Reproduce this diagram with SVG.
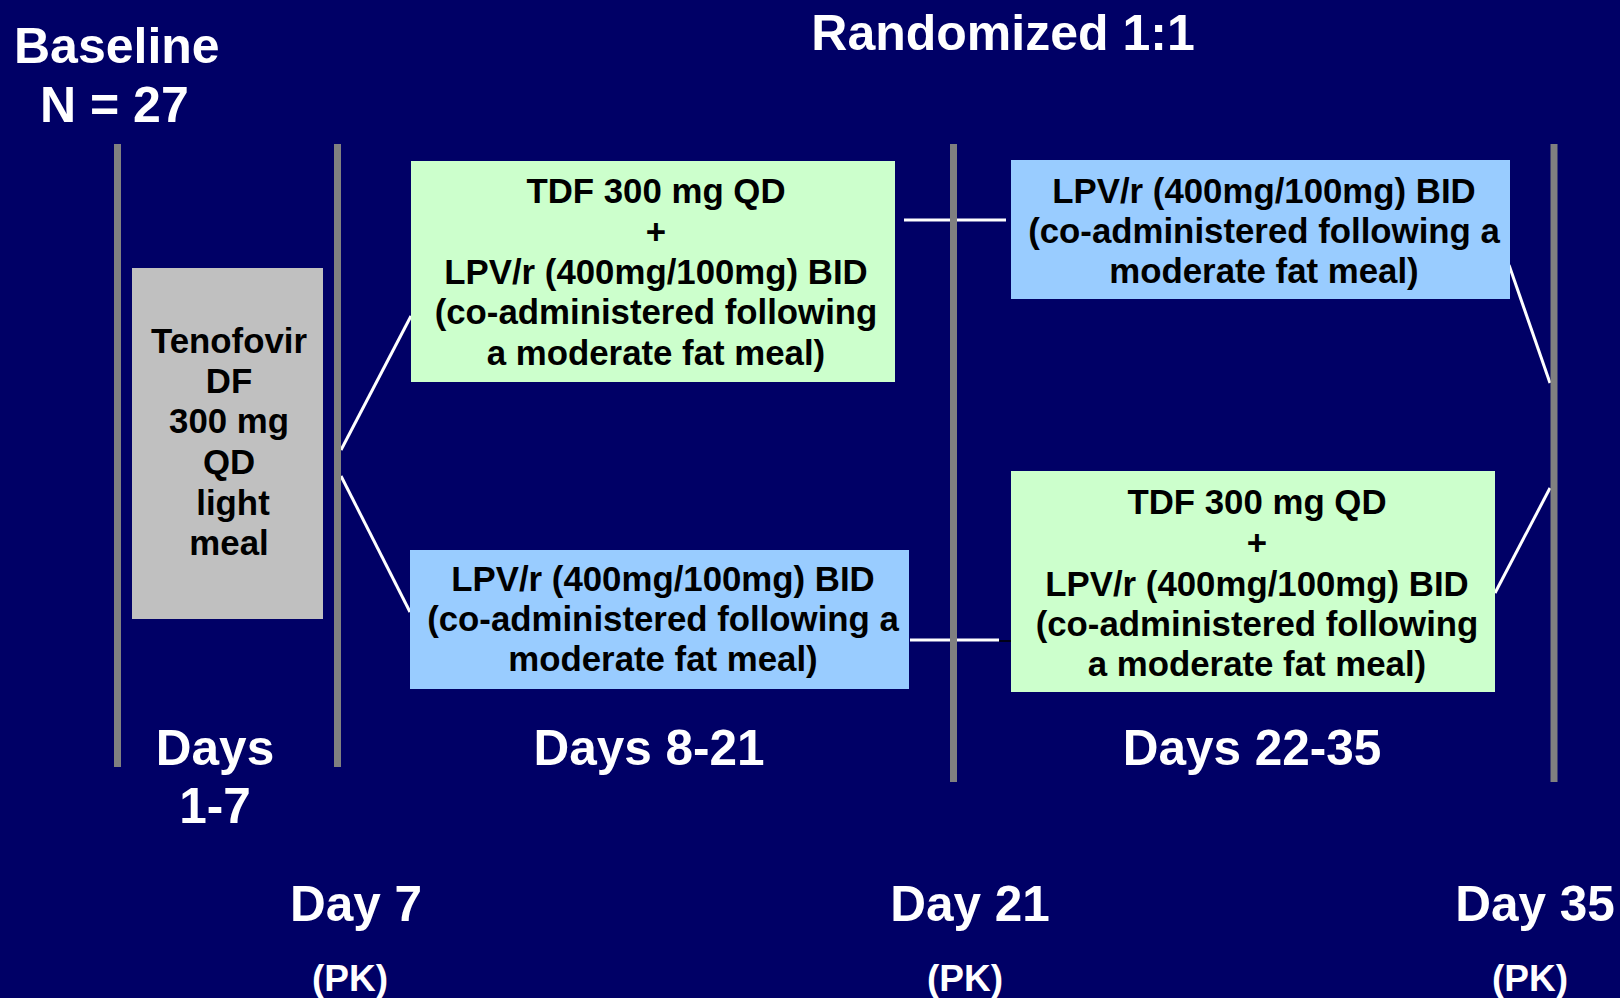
<svg xmlns="http://www.w3.org/2000/svg" width="1620" height="998" viewBox="0 0 1620 998">
<style>
.t{font-family:"Liberation Sans",Arial,sans-serif;font-weight:bold;}
.title{fill:#ffffff;font-size:50px;}
.day{fill:#ffffff;font-size:49.5px;text-anchor:middle;}
.pk{fill:#ffffff;font-size:37px;text-anchor:middle;}
.bx{fill:#000000;font-size:34.8px;text-anchor:middle;}
.vl{stroke:#808080;stroke-width:7;}
.cn{stroke:#ffffff;stroke-width:3;fill:none;}
</style>
<rect x="0" y="0" width="1620" height="998" fill="#000066"/>

<g id="titles" class="t">
  <text class="title" x="14" y="63">Baseline</text>
  <text class="title" x="40" y="122">N = 27</text>
  <text class="title" x="1003" y="50" text-anchor="middle">Randomized 1:1</text>
</g>

<g id="connectors">
  <line class="cn" x1="341" y1="450" x2="411" y2="316"/>
  <line class="cn" x1="341" y1="476" x2="410" y2="612"/>
  <line class="cn" x1="904" y1="220" x2="1006" y2="220"/>
  <line class="cn" x1="910" y1="640" x2="999" y2="640"/>
  <line stroke="#000000" stroke-width="1.5" x1="999" y1="641" x2="1011" y2="641"/>
  <line class="cn" x1="1509" y1="265" x2="1550" y2="383"/>
  <line class="cn" x1="1495" y1="593" x2="1550" y2="488"/>
</g>

<g id="timeline">
  <line class="vl" x1="117.5" y1="144" x2="117.5" y2="767"/>
  <line class="vl" x1="337.5" y1="144" x2="337.5" y2="767"/>
  <line class="vl" x1="953.5" y1="144" x2="953.5" y2="782"/>
  <line class="vl" x1="1554" y1="144" x2="1554" y2="782"/>
</g>

<g id="node-tenofovir" class="t">
  <rect x="132" y="268" width="191" height="351" fill="#c0c0c0"/>
  <text class="bx" x="229" y="353">Tenofovir</text>
  <text class="bx" x="229" y="393">DF</text>
  <text class="bx" x="229" y="433">300 mg</text>
  <text class="bx" x="229" y="474">QD</text>
  <text class="bx" x="233" y="515">light</text>
  <text class="bx" x="229" y="555">meal</text>
</g>

<g id="node-tdf-lpv-1" class="t">
  <rect x="411" y="161" width="484" height="221" fill="#ccffcc"/>
  <text class="bx" x="656" y="203">TDF 300 mg QD</text>
  <text class="bx" x="656" y="244">+</text>
  <text class="bx" x="656" y="284">LPV/r (400mg/100mg) BID</text>
  <text class="bx" x="656" y="324">(co-administered following</text>
  <text class="bx" x="656" y="365">a moderate fat meal)</text>
</g>

<g id="node-lpv-1" class="t">
  <rect x="410" y="550" width="499" height="139" fill="#99ccff"/>
  <text class="bx" x="663" y="591">LPV/r (400mg/100mg) BID</text>
  <text class="bx" x="663" y="631">(co-administered following a</text>
  <text class="bx" x="663" y="671">moderate fat meal)</text>
</g>

<g id="node-lpv-2" class="t">
  <rect x="1011" y="160" width="499" height="139" fill="#99ccff"/>
  <text class="bx" x="1264" y="203">LPV/r (400mg/100mg) BID</text>
  <text class="bx" x="1264" y="243">(co-administered following a</text>
  <text class="bx" x="1264" y="283">moderate fat meal)</text>
</g>

<g id="node-tdf-lpv-2" class="t">
  <rect x="1011" y="471" width="484" height="221" fill="#ccffcc"/>
  <text class="bx" x="1257" y="514">TDF 300 mg QD</text>
  <text class="bx" x="1257" y="555">+</text>
  <text class="bx" x="1257" y="596">LPV/r (400mg/100mg) BID</text>
  <text class="bx" x="1257" y="636">(co-administered following</text>
  <text class="bx" x="1257" y="676">a moderate fat meal)</text>
</g>

<g id="labels" class="t">
  <text class="day" x="215" y="765">Days</text>
  <text class="day" x="215" y="823">1-7</text>
  <text class="day" x="649" y="765">Days 8-21</text>
  <text class="day" x="1252" y="765">Days 22-35</text>
  <text class="day" x="356" y="921">Day 7</text>
  <text class="day" x="970" y="921">Day 21</text>
  <text class="day" x="1535" y="921">Day 35</text>
  <text class="pk" x="350" y="991">(PK)</text>
  <text class="pk" x="965" y="991">(PK)</text>
  <text class="pk" x="1530" y="991">(PK)</text>
</g>
</svg>
